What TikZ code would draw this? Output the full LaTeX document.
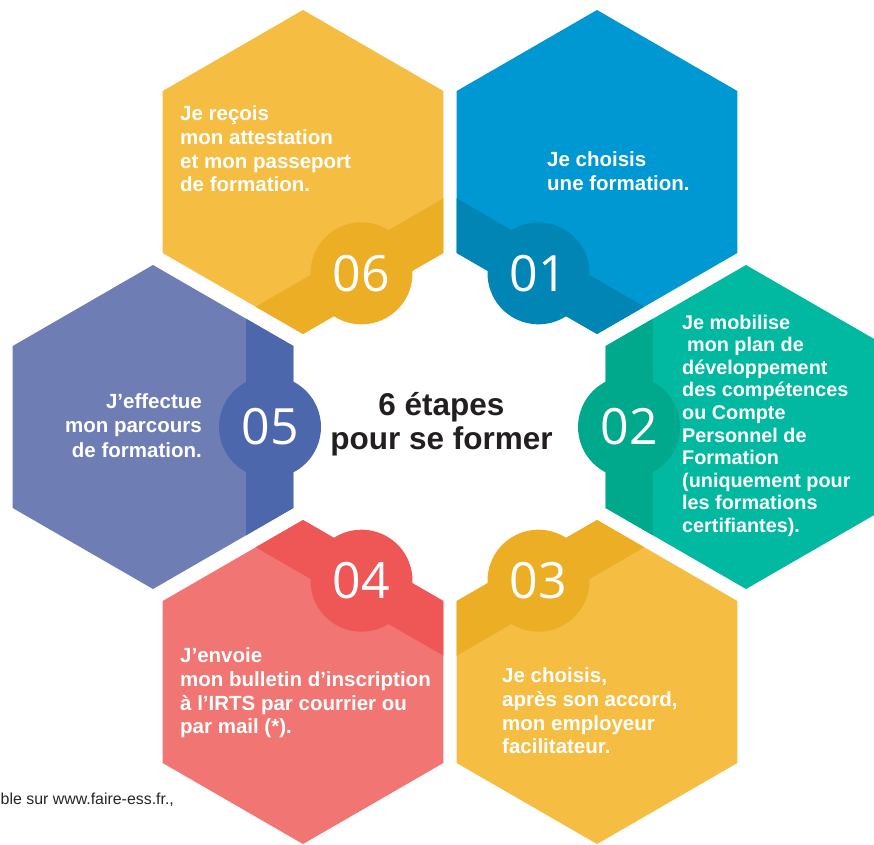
\documentclass[tikz,border=0pt]{standalone}
\usepackage{fontspec}
\setmainfont{Liberation Sans}
\newfontfamily\numfont{Open Sans}
\definecolor{yelL}{HTML}{F5BD41}
\definecolor{yelD}{HTML}{ECAE24}
\definecolor{bluL}{HTML}{0098D3}
\definecolor{bluD}{HTML}{0085B4}
\definecolor{teaL}{HTML}{00B9A0}
\definecolor{teaD}{HTML}{00A98C}
\definecolor{redL}{HTML}{F17572}
\definecolor{redD}{HTML}{EF5656}
\definecolor{vioL}{HTML}{6E7EB4}
\definecolor{vioD}{HTML}{4D67AC}
\definecolor{titleC}{HTML}{231F20}
\newcommand\hexpath{(30:162pt) -- (90:162pt) -- (150:162pt) -- (210:162pt) -- (270:162pt) -- (330:162pt) -- cycle}
\newcommand\hexcell[7]{%
  \begin{scope}[shift={(#2,#3)}, rotate=#4]
    \fill[#5] \hexpath;
    \begin{scope}
      \clip \hexpath;
      \fill[#6] (93pt,-200pt) rectangle (200pt,200pt);
    \end{scope}
    \fill[#6] (117pt,0pt) circle (51pt);
    \node[numstyle] (#1) at (117pt,0pt) {#7};
  \end{scope}}
\begin{document}
\begin{tikzpicture}[x=1pt,y=-1pt,
  numstyle/.style={inner sep=0pt, text=white, font=\numfont\fontsize{50}{50}\selectfont},
  stepstyle/.style={inner sep=0pt, text=white, align=left, font=\bfseries\fontsize{20.5}{23.7}\selectfont},
  titlestyle/.style={inner sep=0pt, text=titleC, align=center, font=\bfseries\fontsize{31.5}{32}\selectfont}]
\useasboundingbox (0,0) rectangle (874,844);
\fill[white] (0,0) rectangle (874,844);

\hexcell{n6}{303}{172}{-60}{yelL}{yelD}{06}
\hexcell{n1}{597}{172}{-120}{bluL}{bluD}{01}
\hexcell{n2}{746}{427}{180}{teaL}{teaD}{02}
\hexcell{n3}{597}{682}{120}{yelL}{yelD}{03}
\hexcell{n4}{303}{682}{60}{redL}{redD}{04}
\hexcell{n5}{153}{427}{0}{vioL}{vioD}{05}

\node[stepstyle, anchor=north west] (t6) at (180,104) {\strut Je reçois\\mon attestation\\et mon passeport\\de formation.};
\node[stepstyle, anchor=north west] (t1) at (547,150) {\strut Je choisis\\une formation.};
\node[stepstyle, anchor=north west, font=\bfseries\fontsize{19.8}{22.6}\selectfont] (t2) at (682,313) {\strut Je mobilise\\\hspace*{5pt}mon plan de\\développement\\des compétences\\ou Compte\\Personnel de\\Formation\\(uniquement pour\\les formations\\certifiantes).};
\node[stepstyle, anchor=north west] (t3) at (502,666) {\strut Je choisis,\\après son accord,\\mon employeur\\facilitateur.};
\node[stepstyle, anchor=north west] (t4) at (180,646) {\strut J’envoie\\mon bulletin d’inscription\\à l’IRTS par courrier ou\\par mail (*).};
\node[stepstyle, anchor=north east, align=right, font=\bfseries\fontsize{20.5}{24.5}\selectfont] (t5) at (202,391) {\strut J’effectue\\mon parcours\\de formation.};

\node[titlestyle, anchor=north] (title) at (441.5,392.6) {\strut 6 étapes\\pour se former};

\node[inner sep=0pt, anchor=base west, text=black!85, font=\fontsize{15.9}{18}\selectfont] (foot) at (0.5,804) {ble sur www.faire-ess.fr.,};
\end{tikzpicture}
\end{document}
